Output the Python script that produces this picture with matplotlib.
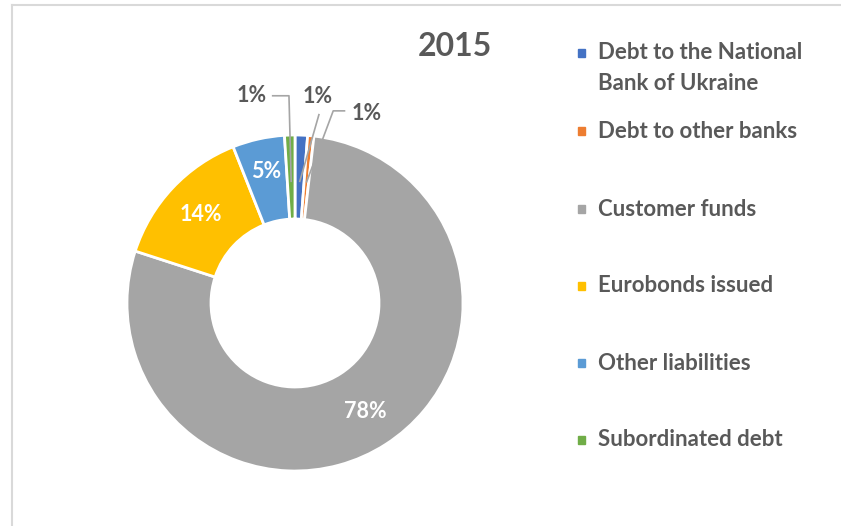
import numpy as np
import matplotlib.pyplot as plt
from matplotlib.patches import Rectangle
from matplotlib.lines import Line2D

# data
labels = ["Debt to the National\nBank of Ukraine", "Debt to other banks", "Customer funds",
          "Eurobonds issued", "Other liabilities", "Subordinated debt"]
shares = [1.2, 0.6, 78.2, 14.0, 5.0, 1.0]
pct_text = ["1%", "1%", "78%", "14%", "5%", "1%"]
colors = ["#4472C4", "#ED7D31", "#A5A5A5", "#FFC000", "#5B9BD5", "#70AD47"]
title = "2015"

W, H = 841, 526
plt.rcParams["font.family"] = ["Lato", "DejaVu Sans"]
fig = plt.figure(figsize=(W / 100, H / 100), dpi=100)
txt = "#595959"

def fx(px):
    return px / W

def fy(py):
    return 1 - py / H

# frame
fig.add_artist(Line2D([fx(12), fx(12)], [fy(5), 0], color="#d9d9d9", lw=1.5))
fig.add_artist(Line2D([fx(12), 1], [fy(5), fy(5)], color="#d9d9d9", lw=1.5))

# pie axes: centre (295, 303) px, radius 167 px
R = 167
cx, cy = 295, 303
half = 210
ax = fig.add_axes([fx(cx - half), fy(cy + half), 2 * half / W, 2 * half / H])
ax.set_xlim(-half / R, half / R)
ax.set_ylim(-half / R, half / R)
ax.set_aspect("equal")
ax.axis("off")

wedges, _ = ax.pie(shares, colors=colors, startangle=90, counterclock=False,
                   radius=1, wedgeprops=dict(width=0.5, edgecolor="white", linewidth=2))

cum = np.cumsum([0] + shares[:-1])
mids = [(c + s / 2) / 100 * 360 for c, s in zip(cum, shares)]

# inside labels
for i, r in [(2, 0.77), (3, 0.77), (4, 0.8)]:
    a = np.deg2rad(mids[i])
    ax.text(r * np.sin(a), r * np.cos(a), pct_text[i], ha="center", va="center",
            color="white", fontsize=15.5, fontweight="bold")

# outside labels with leader lines
def to_data(px, py):
    return (px - cx) / R, (cy - py) / R

outside = {
    0: dict(label=(318, 98), path=[(319, 115)]),
    1: dict(label=(366, 115), path=[(345, 112), (333, 112)]),
    5: dict(label=(252, 97), path=[(272, 97), (289, 97)]),
}
for i, o in outside.items():
    a = np.deg2rad(mids[i])
    r = 0.72
    pts = [to_data(*p) for p in o["path"]] + [(r * np.sin(a), r * np.cos(a))]
    xs, ys = zip(*pts)
    ax.plot(xs, ys, color="#A5A5A5", lw=1.2, solid_capstyle="butt")
    lx, ly = to_data(*o["label"])
    ax.text(lx, ly, pct_text[i], ha="center", va="center", color=txt,
            fontsize=15.5, fontweight="bold")

fig.text(fx(455), fy(46), title, ha="center", va="center", color=txt,
         fontsize=23, fontweight="bold")

# legend
ys = [68, 131, 209, 286, 363, 440]
for lab, col, y in zip(labels, colors, ys):
    first = 53 if "\n" in lab else y
    fig.add_artist(Rectangle((fx(578), fy(first + 4)), 7 / W, 8 / H, color=col,
                             transform=fig.transFigure))
    fig.text(fx(598), fy(y), lab, ha="left", va="center",
             color=txt, fontsize=16, fontweight="bold", linespacing=1.55)

fig.savefig("out.png", dpi=100)
